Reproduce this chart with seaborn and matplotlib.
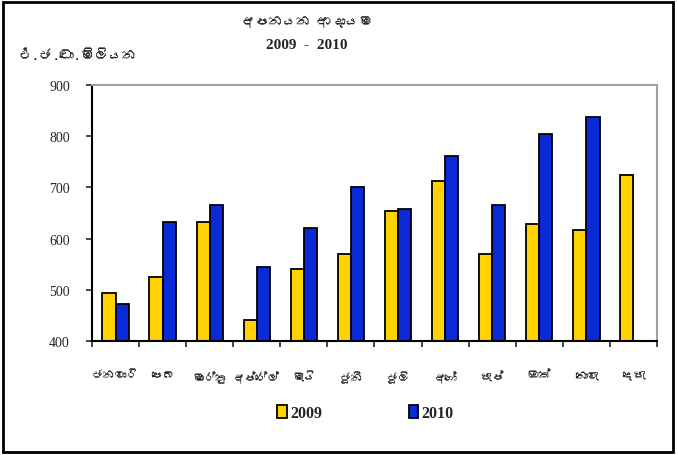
import numpy as np
import pandas as pd
import matplotlib
matplotlib.use("Agg")
import matplotlib.pyplot as plt
import matplotlib.patches as mpatches
from matplotlib import font_manager
from matplotlib.ft2font import FT2Font
import seaborn as sns

# data (million US dollars)
months = ["ජනවාරි", "පෙබ", "මාර්තු", "අප්රේල්", "මැයි", "ජූනි",
          "ජූලි", "අගෝ", "සැප්", "ඔක්", "නොවැ", "දෙසැ"]
values_2009 = [493, 525, 633, 441, 541, 569, 653, 713, 569, 629, 617, 725]
values_2010 = [472, 633, 665, 545, 621, 701, 657, 761, 665, 805, 837, np.nan]
years = ["2009", "2010"]
colors = ["#FFD200", "#0A2AD8"]


def find_sinhala_font():
    # look for any installed font that can draw Sinhala
    for f in font_manager.fontManager.ttflist:
        try:
            if 0x0D85 in FT2Font(f.fname).get_charmap():
                return f.name
        except Exception:
            continue
    return None


df = pd.DataFrame({
    "month": months * 2,
    "year": [years[0]] * 12 + [years[1]] * 12,
    "value": values_2009 + values_2010,
})

sns.set_style("white")
sinhala = find_sinhala_font()
serif = ["Liberation Serif", "DejaVu Serif"]
sin_family = ([sinhala] if sinhala else []) + serif
plt.rcParams["font.family"] = serif

fig = plt.figure(figsize=(6.78, 4.56), dpi=100)
ax = fig.add_axes([0.1357, 0.25, 0.8333, 0.5614])

sns.barplot(data=df, x="month", y="value", hue="year", order=months,
            palette=colors, saturation=1, width=0.56, edgecolor="black",
            linewidth=1.3, legend=False, ax=ax)

ax.set_ylim(400, 900)
ax.set_yticks(range(400, 901, 100))
ax.set_xlim(-0.5, 11.5)
ax.set_xlabel("")
ax.set_ylabel("")

# spines: black left/bottom, grey top/right
for side in ["left", "bottom"]:
    ax.spines[side].set_color("black")
    ax.spines[side].set_linewidth(1.5)
for side in ["top", "right"]:
    ax.spines[side].set_color("#A0A0A0")
    ax.spines[side].set_linewidth(1.5)

ax.tick_params(axis="y", which="major", direction="out", length=4, width=1.2,
               left=True, pad=12, labelsize=10)
ax.set_xticks(np.arange(12))
ax.set_xticklabels(months, family=sin_family, fontsize=8.5)
ax.set_xticks(np.arange(-0.5, 12, 1), minor=True)
ax.tick_params(axis="x", which="major", length=0, pad=21)
ax.tick_params(axis="x", which="minor", direction="out", length=4, width=1.2,
               bottom=True)

# titles
fig.text(0.453, 0.952, "අපනයන ආදායම", ha="center", va="center",
         family=sin_family, fontsize=10)
fig.text(0.453, 0.90, "2009  -  2010", ha="center", va="center",
         fontsize=11, fontweight="bold")
fig.text(0.027, 0.878, "එ.ජ.ඩො.මිලියන", ha="left", va="center",
         family=sin_family, fontsize=10)

# legend
handles = [mpatches.Patch(facecolor=c, edgecolor="black", linewidth=1.3, label=y)
           for c, y in zip(colors, years)]
fig.legend(handles=handles, loc="center", bbox_to_anchor=(0.539, 0.092), ncol=2,
           frameon=False, handlelength=0.6, handleheight=0.8, handletextpad=0.2,
           columnspacing=5.4, prop={"family": serif, "size": 11.5, "weight": "bold"})

# outer frame around the whole figure
fig.add_artist(mpatches.Rectangle((0.005, 0.007), 0.988, 0.986,
                                  transform=fig.transFigure, fill=False,
                                  edgecolor="black", linewidth=2))

fig.savefig("out.png", dpi=100)
